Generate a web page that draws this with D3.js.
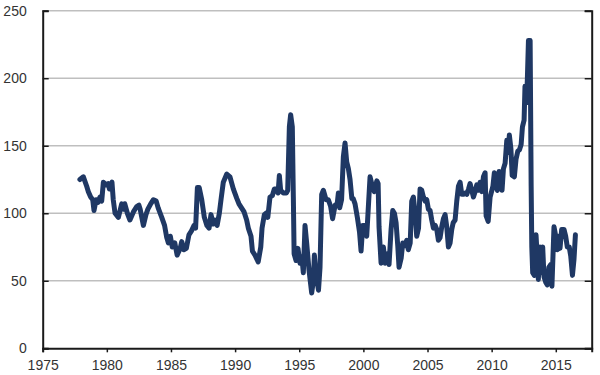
<!DOCTYPE html>
<html>
<head>
<meta charset="utf-8">
<script src="https://cdn.jsdelivr.net/npm/d3@7"></script>
<style>
  body { margin: 0; background: #fff; }
  svg text { font-family: "Liberation Sans", Arial, sans-serif; font-size: 14px; fill: #333; }
</style>
</head>
<body>
<svg id="chart"></svg>
<script>
var screen = {width: 600, height: 375};
var margins = {top: 10.7, right: 8.3, bottom: 26.7, left: 42.7};

// decimal years and index values
var years = [
  1977.9, 1978.17, 1978.43, 1978.56, 1978.74, 1978.9, 1979.0, 1979.16, 1979.3, 1979.47,
  1979.6, 1979.73, 1979.95, 1980.1, 1980.2, 1980.4, 1980.5, 1980.64, 1980.9, 1981.16,
  1981.3, 1981.4, 1981.6, 1981.8, 1982.07, 1982.33, 1982.5, 1982.6, 1982.85, 1983.05,
  1983.2, 1983.42, 1983.63, 1983.85, 1984.0, 1984.28, 1984.5, 1984.67, 1984.8, 1984.95,
  1985.1, 1985.3, 1985.48, 1985.72, 1985.84, 1986.0, 1986.2, 1986.4, 1986.6, 1986.8,
  1986.92, 1987.06, 1987.2, 1987.4, 1987.6, 1987.8, 1987.97, 1988.12, 1988.3, 1988.43,
  1988.6, 1988.77, 1988.9, 1989.08, 1989.35, 1989.6, 1989.86, 1990.13, 1990.3, 1990.5,
  1990.7, 1990.9, 1991.03, 1991.24, 1991.35, 1991.55, 1991.8, 1992.0, 1992.1, 1992.28,
  1992.4, 1992.55, 1992.72, 1992.9, 1993.06, 1993.2, 1993.35, 1993.45, 1993.55, 1993.76,
  1994.0, 1994.1, 1994.23, 1994.33, 1994.46, 1994.54, 1994.6, 1994.75, 1994.9, 1995.06,
  1995.2, 1995.32, 1995.45, 1995.58, 1995.76, 1995.97, 1996.1, 1996.18, 1996.3, 1996.5,
  1996.62, 1996.75, 1996.88, 1997.09, 1997.27, 1997.45, 1997.6, 1997.8, 1997.96, 1998.05,
  1998.15, 1998.3, 1998.44, 1998.57, 1998.7, 1998.83, 1998.96, 1999.1, 1999.2, 1999.35,
  1999.53, 1999.7, 1999.82, 1999.95, 2000.1, 2000.26, 2000.39, 2000.52, 2000.7, 2000.85,
  2001.05, 2001.15, 2001.22, 2001.38, 2001.56, 2001.7, 2001.87, 2002.0, 2002.16, 2002.29,
  2002.42, 2002.55, 2002.68, 2002.78, 2002.95, 2003.07, 2003.25, 2003.38, 2003.5, 2003.65,
  2003.77, 2003.9, 2004.03, 2004.16, 2004.3, 2004.42, 2004.55, 2004.68, 2004.81, 2004.94,
  2005.07, 2005.2, 2005.33, 2005.46, 2005.6, 2005.72, 2005.85, 2005.98, 2006.11, 2006.24,
  2006.37, 2006.5, 2006.63, 2006.76, 2006.89, 2007.0, 2007.15, 2007.28, 2007.41, 2007.54,
  2007.67, 2007.8, 2007.93, 2008.06, 2008.2, 2008.32, 2008.45, 2008.58, 2008.71, 2008.84,
  2008.97, 2009.1, 2009.23, 2009.36, 2009.49, 2009.57, 2009.73, 2009.88, 2010.1, 2010.21,
  2010.34, 2010.45, 2010.58, 2010.71, 2010.81, 2010.92, 2011.05, 2011.18, 2011.3, 2011.38,
  2011.5, 2011.6, 2011.77, 2011.9, 2012.04, 2012.17, 2012.3, 2012.4, 2012.53, 2012.6,
  2012.7, 2012.78, 2012.87, 2013.0, 2013.08, 2013.13, 2013.2, 2013.33, 2013.46, 2013.56,
  2013.64, 2013.77, 2013.87, 2013.98, 2014.08, 2014.21, 2014.34, 2014.46, 2014.6, 2014.7,
  2014.86, 2014.98, 2015.12, 2015.22, 2015.33, 2015.46, 2015.64, 2015.77, 2015.9, 2016.05,
  2016.17, 2016.3, 2016.42, 2016.53
];

var values = [
  125, 127, 120, 116, 112, 110, 102, 110, 108, 112,
  109, 123, 121, 122, 118, 123, 110, 100, 97, 107,
  103, 107, 100, 95, 101, 105, 106, 103, 91, 99,
  103, 107, 110, 109, 104, 97, 91, 82, 78, 83,
  75, 78, 69, 74, 79, 73, 74, 84, 87, 91,
  89, 119, 119, 110, 97, 91, 89, 99, 92, 95,
  91, 100, 110, 123, 129, 127, 118, 111, 107, 104,
  101, 95, 89, 83, 72, 69, 64, 75, 89, 99,
  100, 97, 112, 113, 118, 118, 115, 128, 117, 115,
  115, 117, 164, 173, 164, 112, 70, 65, 74, 63,
  68, 56, 91, 78, 58, 41, 50, 69, 55, 43,
  60, 114, 117, 110, 110, 105, 96, 106, 107, 115,
  104, 110, 142, 152, 138, 133, 125, 111, 111, 107,
  97, 86, 72, 91, 91, 83, 105, 127, 120, 116,
  124, 122, 90, 63, 75, 63, 70, 62, 88, 102,
  100, 93, 76, 60, 67, 78, 76, 80, 73, 78,
  109, 112, 100, 83, 89, 118, 117, 112, 109, 110,
  103, 102, 95, 89, 91, 88, 80, 82, 90, 96,
  99, 90, 75, 78, 88, 93, 95, 109, 120, 123,
  114, 114, 115, 114, 118, 122, 117, 112, 116, 121,
  117, 123, 116, 127, 130, 98, 94, 112, 120, 130,
  120, 117, 131, 125, 117, 133, 137, 154, 145, 158,
  148, 128, 127, 140, 146, 147, 151, 164, 169, 194,
  182, 198, 228, 228, 120, 75, 56, 54, 84, 66,
  51, 75, 56, 75, 53, 49, 47, 60, 62, 46,
  90, 84, 73, 83, 74, 88, 88, 83, 75, 75,
  68, 54, 66, 84
];

var xTicks = [1975, 1980, 1985, 1990, 1995, 2000, 2005, 2010, 2015];
var yTicks = [0, 50, 100, 150, 200, 250];

var setup = function()
{
    var width = screen.width - margins.left - margins.right;
    var height = screen.height - margins.top - margins.bottom;

    var svg = d3.select("#chart")
    .attr("width", screen.width)
    .attr("height", screen.height);

    var g = svg.append("g")
    .attr("transform", "translate(" + margins.left + "," + margins.top + ")");

    var xScale = d3.scaleLinear().domain([1975, 2017.8]).range([0, width]);
    var yScale = d3.scaleLinear().domain([0, 250]).range([height, 0]);

    // gridlines
    g.append("g")
    .selectAll("line")
    .data(yTicks.slice(1))
    .enter()
    .append("line")
    .attr("x1", 0)
    .attr("x2", width)
    .attr("y1", function(d){ return yScale(d); })
    .attr("y2", function(d){ return yScale(d); })
    .attr("stroke", "#bfbfbf")
    .attr("stroke-width", 1.5);

    // left axis, ticks pointing inward
    var yAxis = d3.axisLeft(yScale).tickValues(yTicks).tickSize(-6).tickPadding(16);
    var yg = g.append("g").call(yAxis);

    // right axis, no labels
    var yAxisR = d3.axisRight(yScale).tickValues(yTicks).tickSize(-7).tickFormat("");
    var yr = g.append("g").attr("transform", "translate(" + width + ",0)").call(yAxisR);

    var xAxis = d3.axisBottom(xScale).tickValues(xTicks).tickSize(4).tickPadding(8).tickFormat(d3.format("d"));
    var xg = g.append("g").attr("transform", "translate(0," + height + ")").call(xAxis);

    [yg, yr, xg].forEach(function(a){
        a.select(".domain").attr("stroke", "#1a1a1a").attr("stroke-width", 2);
        a.selectAll(".tick line").attr("stroke", "#1a1a1a").attr("stroke-width", 1.5);
        a.selectAll("text").attr("fill", "#333").style("font-size", "14px")
         .style("font-family", "'Liberation Sans', Arial, sans-serif");
    });

    var points = years.map(function(y, i){ return [y, values[i]]; });

    var line = d3.line()
    .x(function(d){ return xScale(d[0]); })
    .y(function(d){ return yScale(d[1]); });

    g.append("path")
    .datum(points)
    .attr("d", line)
    .attr("fill", "none")
    .attr("stroke", "#1f3864")
    .attr("stroke-width", 5)
    .attr("stroke-linejoin", "round")
    .attr("stroke-linecap", "round");
}

setup();
</script>
</body>
</html>
